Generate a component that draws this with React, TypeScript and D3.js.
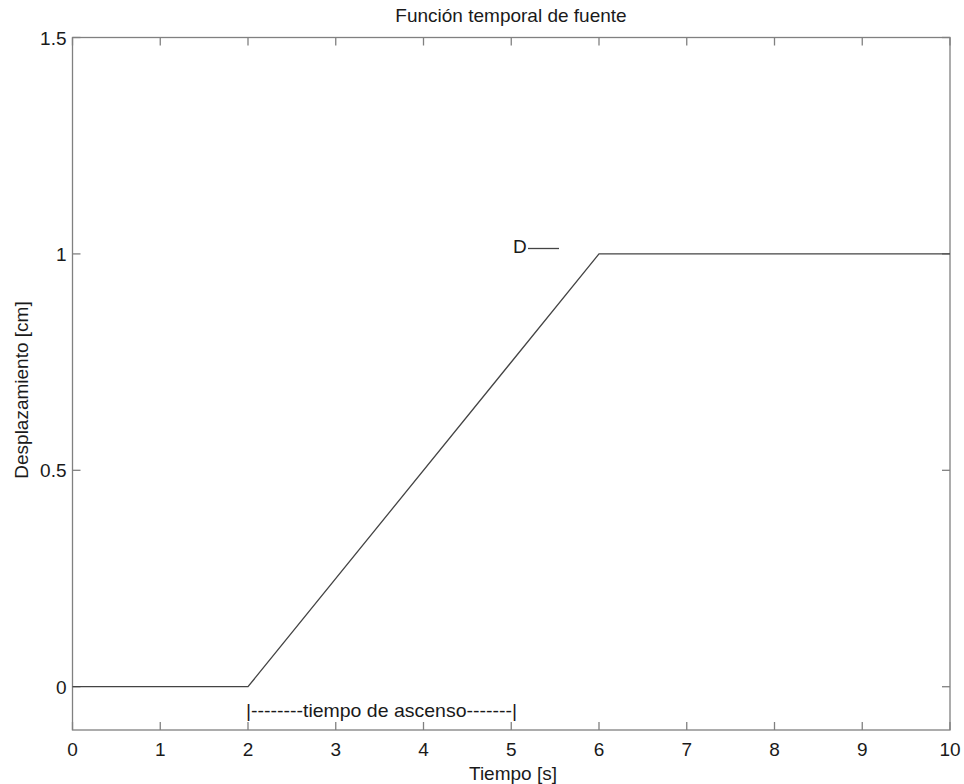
import React from "react";
import * as d3 from "d3";

const timeValues = [0, 2, 6, 10];
const dispValues = [0, 0, 1, 1];
const xTicks = [0, 1, 2, 3, 4, 5, 6, 7, 8, 9, 10];
const yTicks = [0, 0.5, 1, 1.5];
const yTickLabels = ["0", "0.5", "1", "1.5"];

const W = 964, H = 784;
const L = 72.5, R = 950, T = 37.5, B = 730;
const font = "'Liberation Sans', Arial, Helvetica, sans-serif";
const axisColor = "#808080";
const fs = 19;

export default function App() {
  const x = d3.scaleLinear().domain([0, 10]).range([L, R]);
  const y = d3.scaleLinear().domain([-0.1, 1.5]).range([B, T]);
  const pts = timeValues.map((t, i) => [t, dispValues[i]] as [number, number]);
  const line = d3.line<[number, number]>().x(d => x(d[0])).y(d => y(d[1]));
  const tl = 8;
  return (
    <svg width={W} height={H} style={{ position: "absolute", left: 0, top: 0, background: "#fff" }}>
      <rect x={0} y={0} width={W} height={H} fill="#fff" />
      <rect x={L} y={T} width={R - L} height={B - T} fill="none" stroke={axisColor} strokeWidth={1.3} />
      {xTicks.map(t => (
        <g key={"x" + t}>
          <line x1={x(t)} x2={x(t)} y1={B} y2={B - tl} stroke={axisColor} strokeWidth={1.3} />
          <line x1={x(t)} x2={x(t)} y1={T} y2={T + tl} stroke={axisColor} strokeWidth={1.3} />
          <text x={x(t)} y={756} textAnchor="middle" fontFamily={font} fontSize={fs} fill="#1a1a1a">{t}</text>
        </g>
      ))}
      {yTicks.map((t, i) => (
        <g key={"y" + t}>
          <line x1={L} x2={L + tl} y1={y(t)} y2={y(t)} stroke={axisColor} strokeWidth={1.3} />
          <line x1={R} x2={R - tl} y1={y(t)} y2={y(t)} stroke={axisColor} strokeWidth={1.3} />
          <text x={L - 6} y={y(t) + 7} textAnchor="end" fontFamily={font} fontSize={fs} fill="#1a1a1a">{yTickLabels[i]}</text>
        </g>
      ))}
      <path d={line(pts) || ""} fill="none" stroke="#444" strokeWidth={1.3} />
      <text x={x(2) - 2} y={717} fontFamily={font} fontSize={fs} fill="#1a1a1a" textLength={271} lengthAdjust="spacingAndGlyphs">|--------tiempo de ascenso-------|</text>
      <text x={513} y={253} fontFamily={font} fontSize={fs} fill="#1a1a1a">D</text>
      <line x1={528} x2={559} y1={248.5} y2={248.5} stroke="#444" strokeWidth={1.3} />
      <text x={511} y={22} textAnchor="middle" fontFamily={font} fontSize={fs} fill="#1a1a1a">Función temporal de fuente</text>
      <text x={513} y={780} textAnchor="middle" fontFamily={font} fontSize={fs} fill="#1a1a1a">Tiempo [s]</text>
      <text transform={`translate(28,390) rotate(-90)`} textAnchor="middle" fontFamily={font} fontSize={fs} fill="#1a1a1a">Desplazamiento [cm]</text>
    </svg>
  );
}
